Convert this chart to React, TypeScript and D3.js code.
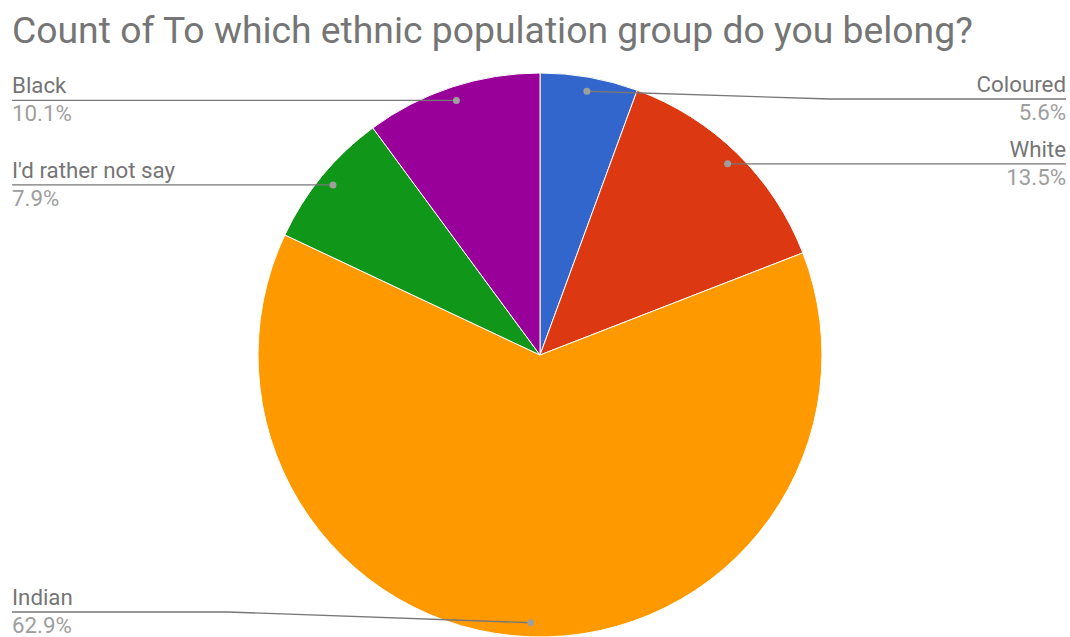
import React from "react";
import * as d3 from "d3";

const categories = ["Coloured", "White", "Indian", "I'd rather not say", "Black"];
const values = [5.6, 13.5, 62.9, 7.9, 10.1];
const colors = ["#3366cc", "#dc3912", "#ff9900", "#109618", "#990099"];
const title = "Count of To which ethnic population group do you belong?";

const W = 1070;
const H = 637;
const cx = 540;
const cy = 355;
const R = 282;

export default function App() {
  const pie = d3.pie<number>().sort(null).value((d) => d);
  const arcs = pie(values);
  const arc = d3.arc<d3.PieArcDatum<number>>().innerRadius(0).outerRadius(R);

  return (
    <svg
      width={W}
      height={H}
      style={{ position: "absolute", left: 0, top: 0, background: "#fff" }}
      fontFamily="Roboto, sans-serif"
    >
      <text x={12} y={43} fontSize={37.3} fill="#757575">
        {title}
      </text>
      <g transform={`translate(${cx},${cy})`}>
        {arcs.map((a, i) => (
          <path key={i} d={arc(a) || ""} fill={colors[i]} stroke="#fff" strokeWidth={1} />
        ))}
      </g>
      {arcs.map((a, i) => {
        const mid = (a.startAngle + a.endAngle) / 2;
        const dx = cx + R * 0.95 * Math.sin(mid);
        const dy = cy - R * 0.95 * Math.cos(mid);
        const right = Math.sin(mid) >= 0;
        const ly = Math.max(99, Math.min(612, dy));
        const bendX = right ? cx + R + 8 : cx - R - 30;
        const endX = right ? 1066 : 12;
        const pts =
          Math.abs(ly - dy) < 0.5
            ? `${dx},${dy} ${endX},${ly}`
            : `${dx},${dy} ${bendX},${ly} ${endX},${ly}`;
        const anchor = right ? "end" : "start";
        return (
          <g key={"l" + i}>
            <polyline points={pts} fill="none" stroke="#777" strokeWidth={1.3} />
            <circle cx={dx} cy={dy} r={3.5} fill="#9e9e9e" />
            <text x={endX} y={ly - 7} fontSize={22.3} fill="#757575" textAnchor={anchor}>
              {categories[i]}
            </text>
            <text x={endX} y={ly + 21} fontSize={22.3} fill="#9e9e9e" textAnchor={anchor}>
              {values[i].toFixed(1) + "%"}
            </text>
          </g>
        );
      })}
    </svg>
  );
}
